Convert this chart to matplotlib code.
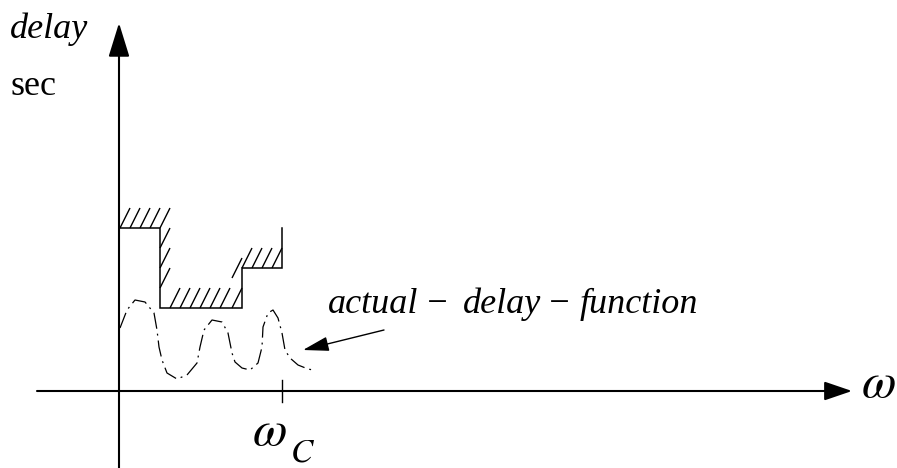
import matplotlib.pyplot as plt
from matplotlib.collections import LineCollection

# --- ejes (coordenadas del esquema: origen en el cruce de los ejes) ---
X_MIN, X_MAX = -119, 778
Y_MIN, Y_MAX = -77, 391
W_C = 163  # frecuencia de corte

# limite superior del retardo (escalones)
bound_w = [0, 41, 41, 123, 123, 163, 163]
bound_d = [163, 163, 83, 83, 123, 123, 163]

# rayado del limite (punto de inicio de cada trazo)
hatch_w = [1, 11, 21, 31, 41, 41, 41, 41, 51, 61, 71, 81, 91, 101, 113, 113, 123, 133, 143, 153]
hatch_d = [163, 163, 163, 163, 163, 143, 123, 103, 83, 83, 83, 83, 83, 83, 83, 113, 123, 123, 123, 123]

# funcion de retardo real
curve_w = [1, 8, 16, 26, 35, 38, 40, 43, 48, 58, 68, 78, 81, 85, 93, 103, 109, 111, 113,
           116, 123, 131, 139, 143, 144, 149, 154, 159, 163, 166, 171, 179, 189, 194]
curve_d = [63, 81, 91, 89, 78, 61, 44, 31, 18, 12, 16, 28, 44, 61, 71, 69, 58, 48, 38,
           29, 23, 21, 28, 44, 64, 78, 81, 73, 58, 41, 33, 26, 22, 21]

# etiqueta de la curva, palabra por palabra (estilo editor de ecuaciones)
label_words = ['actual', '\u2212', 'delay', '\u2212', 'function']
label_x = [209, 306, 344, 428, 461]

plt.rcParams['mathtext.fontset'] = 'stix'
fig = plt.figure(figsize=(8.97, 4.68), dpi=100)
ax = fig.add_axes([0, 0, 1, 1])
ax.set_xlim(X_MIN, X_MAX)
ax.set_ylim(Y_MIN, Y_MAX)
ax.axis('off')

serif = 'Liberation Serif'

# ejes con flecha
ax.annotate('', xy=(0, 368), xytext=(0, Y_MIN),
            arrowprops=dict(arrowstyle='-|>,head_length=2.1,head_width=0.65', mutation_scale=10,
                            shrinkA=0, shrinkB=0, lw=1.5, color='black'))
ax.annotate('', xy=(733, 0), xytext=(-82, 0),
            arrowprops=dict(arrowstyle='-|>,head_length=1.7,head_width=0.58', mutation_scale=10,
                            shrinkA=0, shrinkB=0, lw=1.5, color='black'))

# marca de w_c
ax.plot([W_C, W_C], [-11, 11], color='black', lw=1)

# limite y rayado
ax.plot(bound_w, bound_d, color='black', lw=1.1, solid_joinstyle='miter')
segs = [[(w, d), (w + 10, d + 20)] for w, d in zip(hatch_w, hatch_d)]
ax.add_collection(LineCollection(segs, colors='black', linewidths=1.0))

# curva real
ax.plot(curve_w, curve_d, color='black', lw=0.9, linestyle=(0, (13, 4, 1.5, 4)))

# flecha de la etiqueta
ax.annotate('', xy=(184, 41), xytext=(265, 61),
            arrowprops=dict(arrowstyle='-|>,head_length=1.6,head_width=0.45', mutation_scale=10,
                            shrinkA=0, shrinkB=0, lw=1.0, color='black'))

# textos
it = dict(fontsize=26, fontstyle='italic', family=serif, va='baseline')
ax.text(-109, 353, 'delay', **it)
ax.text(-109, 296, 'sec', fontsize=26, family=serif, va='baseline')
for palabra, x in zip(label_words, label_x):
    ax.text(x, 78, palabra, **it)

ax.text(742, -6, r'$\omega$', fontsize=36, va='baseline')
ax.text(133, -54, r'$\omega$', fontsize=36, va='baseline')
ax.text(171, -70, r'$C$', fontsize=24, va='baseline')

fig.savefig('out.png', dpi=100)
